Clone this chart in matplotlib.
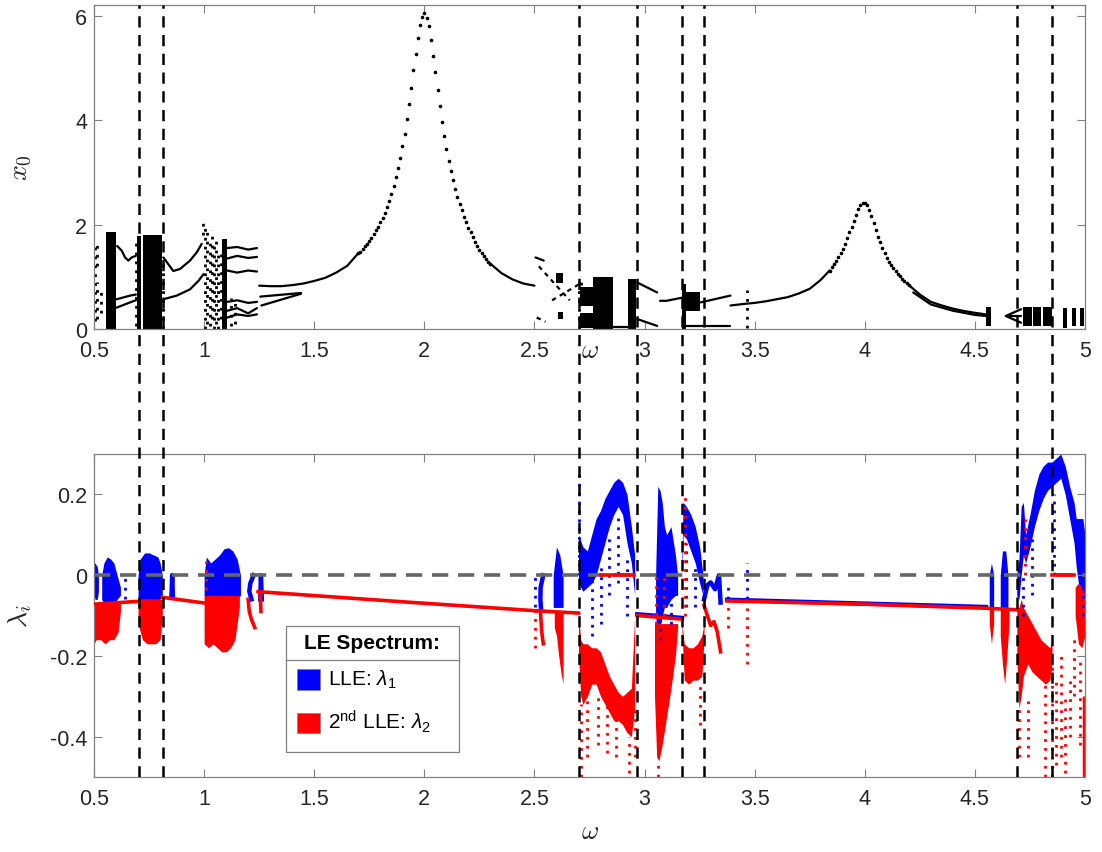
import matplotlib
matplotlib.use("Agg")
import matplotlib.pyplot as plt
from matplotlib.patches import Rectangle

plt.rcParams['font.family'] = ['Liberation Sans', 'DejaVu Sans']
plt.rcParams['mathtext.fontset'] = 'custom'
plt.rcParams['mathtext.rm'] = 'Liberation Sans'
plt.rcParams['mathtext.it'] = 'Liberation Sans:italic'

# ---------------------------------------------------------------- data ----
xticks = [0.5, 1, 1.5, 2, 2.5, 3, 3.5, 4, 4.5, 5]
xtick_labels = ['0.5', '1', '1.5', '2', '2.5', '3', '3.5', '4', '4.5', '5']
top_yticks = [0, 2, 4, 6]
bot_yticks = [-0.4, -0.2, 0, 0.2]
bot_ytick_labels = ['-0.4', '-0.2', '0', '0.2']

# windows marked by the vertical dashed lines
window_w = [0.705, 0.815, 2.70, 2.965, 3.17, 3.272, 4.692, 4.848]

# primary resonance (dots) around w = 2
res1_w = [1.70, 1.71, 1.72, 1.73, 1.74, 1.75, 1.76, 1.77, 1.78, 1.79,
          1.80, 1.81, 1.82, 1.83, 1.84, 1.85, 1.86, 1.87, 1.88, 1.89,
          1.90, 1.91, 1.92, 1.93, 1.94, 1.95, 1.96, 1.97, 1.98, 1.99,
          2.00, 2.01, 2.02, 2.03, 2.04, 2.05, 2.06, 2.07, 2.08, 2.09,
          2.10, 2.11, 2.12, 2.13, 2.14, 2.15, 2.16, 2.17, 2.18, 2.19,
          2.20, 2.21, 2.22, 2.23, 2.24, 2.25, 2.26, 2.27, 2.28, 2.29, 2.30]
res1_x = [1.45, 1.48, 1.53, 1.58, 1.63, 1.69, 1.75, 1.82, 1.89, 1.96,
          2.04, 2.13, 2.23, 2.33, 2.45, 2.59, 2.74, 2.90, 3.08, 3.28,
          3.50, 3.74, 4.02, 4.31, 4.61, 4.95, 5.27, 5.56, 5.81, 5.98,
          6.05, 5.96, 5.80, 5.54, 5.23, 4.91, 4.58, 4.26, 3.96, 3.70,
          3.45, 3.22, 3.03, 2.85, 2.68, 2.52, 2.39, 2.27, 2.15, 2.04,
          1.94, 1.85, 1.76, 1.67, 1.59, 1.52, 1.45, 1.39, 1.34, 1.29, 1.25]

# second resonance (dots) around w = 4
res2_w = [3.84, 3.85, 3.86, 3.87, 3.88, 3.89, 3.90, 3.91, 3.92, 3.93,
          3.94, 3.95, 3.96, 3.97, 3.98, 3.99, 4.00, 4.01, 4.02, 4.03,
          4.04, 4.05, 4.06, 4.07, 4.08, 4.09, 4.10, 4.11, 4.12, 4.13,
          4.14, 4.15, 4.16, 4.17, 4.18, 4.19, 4.20]
res2_x = [1.12, 1.18, 1.24, 1.30, 1.37, 1.45, 1.53, 1.63, 1.74, 1.85,
          1.96, 2.07, 2.19, 2.30, 2.38, 2.42, 2.41, 2.37, 2.28, 2.16,
          2.03, 1.90, 1.77, 1.66, 1.55, 1.45, 1.36, 1.29, 1.22, 1.16,
          1.11, 1.06, 1.01, 0.96, 0.92, 0.88, 0.84]

# periodic branches drawn as continuous curves
branch_w = [[1.25, 1.30, 1.35, 1.40, 1.45, 1.50, 1.55, 1.60, 1.65, 1.70],
            [2.30, 2.35, 2.40, 2.45, 2.50],
            [3.39, 3.45, 3.50, 3.55, 3.60, 3.65, 3.70, 3.75, 3.80, 3.84],
            [4.20, 4.25, 4.30, 4.35, 4.40, 4.45, 4.50, 4.55],
            [4.22, 4.30, 4.40, 4.50, 4.55],
            [0.605, 0.626, 0.641, 0.656, 0.671, 0.69],
            [0.603, 0.664, 0.69],
            [0.603, 0.664, 0.69],
            [0.815, 0.86, 0.891, 0.936, 0.967, 0.989],
            [0.815, 0.876, 0.936, 0.974, 0.997],
            [1.105, 1.15, 1.20, 1.24],
            [1.105, 1.15, 1.20, 1.24],
            [1.105, 1.15, 1.20, 1.24],
            [1.105, 1.15, 1.20, 1.24],
            [1.105, 1.15, 1.20, 1.24],
            [1.105, 1.15, 1.20, 1.24],
            [1.255, 1.44],
            [1.26, 1.44],
            [2.505, 2.542],
            [2.967, 3.057],
            [2.967, 3.057],
            [3.07, 3.10, 3.17],
            [3.255, 3.39],
            [3.19, 3.39],
            [2.855, 2.925],
            [4.71, 4.64, 4.71],
            [4.66, 4.71]]
branch_x = [[0.83, 0.82, 0.82, 0.84, 0.87, 0.92, 0.98, 1.08, 1.21, 1.45],
            [1.25, 1.07, 0.95, 0.87, 0.83],
            [0.45, 0.48, 0.50, 0.53, 0.57, 0.61, 0.68, 0.77, 0.94, 1.12],
            [0.84, 0.66, 0.52, 0.45, 0.39, 0.345, 0.31, 0.28],
            [0.70, 0.47, 0.35, 0.27, 0.25],
            [1.59, 1.50, 1.37, 1.31, 1.37, 1.40],
            [0.57, 0.64, 0.66],
            [0.41, 0.51, 0.55],
            [1.37, 1.11, 1.15, 1.31, 1.47, 1.63],
            [0.57, 0.64, 0.76, 0.92, 1.05],
            [1.55, 1.57, 1.52, 1.55],
            [1.35, 1.40, 1.36, 1.38],
            [1.12, 1.08, 1.12, 1.10],
            [0.52, 0.55, 0.50, 0.52],
            [0.35, 0.40, 0.30, 0.40],
            [0.22, 0.28, 0.25, 0.28],
            [0.62, 0.69],
            [0.45, 0.675],
            [1.37, 1.31],
            [0.89, 0.70],
            [0.19, 0.06],
            [0.54, 0.54, 0.60],
            [0.51, 0.64],
            [0.06, 0.06],
            [0.04, 0.04],
            [0.38, 0.25, 0.12],
            [0.25, 0.25]]

# broken (dashed) branches near w = 2.6
dash_w = [[2.52, 2.66], [2.58, 2.70], [2.51, 2.55]]
dash_x = [[1.20, 0.55], [0.55, 0.85], [0.22, 0.14]]

# chaotic bands: filled blocks (w from, w to, x from, x to)
blk_w0 = [0.555, 0.695, 0.722, 1.082, 2.768, 2.927, 3.172, 3.19, 2.705, 2.705,
          2.605, 2.60, 4.55, 4.72, 4.765, 4.81, 4.90, 4.94, 4.975]
blk_w1 = [0.600, 0.715, 0.810, 1.105, 2.855, 2.960, 3.190, 3.25, 2.765, 2.765,
          2.63, 2.63, 4.575, 4.76, 4.80, 4.85, 4.92, 4.96, 4.995]
blk_lo = [0, 0, 0, 0, 0, 0, 0, 0.35, 0.45, 0.02,
          0.20, 0.88, 0.05, 0.05, 0.05, 0.05, 0.02, 0.05, 0.05]
blk_hi = [1.85, 1.78, 1.80, 1.72, 1.00, 0.96, 0.86, 0.70, 0.80, 0.30,
          0.33, 1.08, 0.42, 0.42, 0.42, 0.42, 0.40, 0.40, 0.40]

# sparse chaotic points, drawn as dotted columns
dot_w = [0.505, 0.515, 0.515, 0.53, 0.69, 0.815, 1.005, 1.015, 1.025, 1.035,
         1.045, 1.055, 1.065, 1.075, 1.12, 1.14, 2.70, 2.71, 3.467, 0.997]
dot_lo = [0.15, 1.2, 0.2, 0.3, 0.05, 0.0, 0.0, 0.1, 0.05, 0.2,
          0.0, 0.1, 0.0, 0.2, 0.05, 0.1, 0.0, 0.85, 0.02, 1.8]
dot_hi = [1.65, 1.6, 0.9, 0.8, 1.7, 1.3, 1.95, 1.85, 1.7, 1.9,
          1.6, 1.75, 1.5, 1.55, 0.6, 0.55, 1.0, 1.02, 0.75, 2.13]

# ---- Lyapunov spectrum ----
red_line_w = [[0.50, 0.70], [0.81, 1.00], [1.245, 1.9, 2.5, 2.70], [2.967, 3.17],
              [3.375, 4.0, 4.55, 4.70], [2.80, 2.95], [4.85, 4.95],
              [1.20, 1.205, 1.215, 1.23], [3.27, 3.285, 3.30, 3.315, 3.33, 3.345],
              [2.527, 2.533, 2.54], [1.255, 1.258]]
red_line_y = [[-0.072, -0.065], [-0.055, -0.069], [-0.041, -0.066, -0.088, -0.094],
              [-0.100, -0.109], [-0.064, -0.072, -0.082, -0.086], [0, 0], [0, 0],
              [-0.06, -0.09, -0.11, -0.13], [-0.075, -0.10, -0.125, -0.115, -0.14, -0.19],
              [-0.09, -0.14, -0.17], [-0.05, -0.09]]
blue_line_w = [[2.967, 3.17], [3.375, 4.55], [1.225, 1.21, 1.205, 1.215],
               [3.27, 3.285, 3.30, 3.32, 3.338, 3.345], [2.54, 2.528, 2.527, 2.53],
               [0.852, 0.855, 0.858], [1.255, 1.258, 1.262]]
blue_line_y = [[-0.097, -0.106], [-0.061, -0.079], [0.0, -0.02, -0.04, -0.06],
               [-0.06, -0.025, -0.018, -0.035, 0.0, -0.068], [0.0, -0.03, -0.06, -0.085],
               [-0.05, 0.0, -0.05], [-0.06, 0.0, -0.06]]

# dense clouds of lambda_1 (blue) and lambda_2 (red): envelopes
blue_cloud_w = [[0.50, 0.505, 0.515, 0.52],
                [0.535, 0.545, 0.56, 0.575, 0.59, 0.605, 0.62],
                [0.70, 0.71, 0.73, 0.75, 0.77, 0.79, 0.80, 0.81],
                [1.00, 1.01, 1.03, 1.05, 1.07, 1.09, 1.11, 1.13, 1.15, 1.165],
                [2.585, 2.60, 2.615, 2.63],
                [2.70, 2.72, 2.74, 2.76, 2.78, 2.80, 2.82, 2.84, 2.86, 2.88, 2.90, 2.92, 2.94, 2.955],
                [3.05, 3.06, 3.07, 3.08, 3.09, 3.10, 3.12, 3.14, 3.15],
                [3.17, 3.175, 3.19, 3.21, 3.23, 3.25, 3.265],
                [4.565, 4.575, 4.585],
                [4.615, 4.625, 4.64, 4.65],
                [4.69, 4.70, 4.71, 4.72, 4.73, 4.75, 4.77, 4.79, 4.81, 4.83, 4.85,
                 4.87, 4.89, 4.91, 4.93, 4.95, 4.96, 4.97, 4.99, 5.0]]
blue_cloud_lo = [[-0.05, -0.06, -0.06, -0.04],
                 [-0.06, -0.07, -0.07, -0.07, -0.07, -0.06, -0.05],
                 [-0.06, -0.06, -0.06, -0.06, -0.06, -0.06, -0.06, -0.05],
                 [-0.05, -0.06, -0.06, -0.06, -0.06, -0.06, -0.06, -0.06, -0.06, -0.05],
                 [-0.08, -0.08, -0.08, -0.08],
                 [-0.02, -0.04, -0.03, -0.02, 0.0, 0.04, 0.08, 0.12, 0.15, 0.17, 0.15, 0.08, 0.03, -0.05],
                 [-0.10, -0.15, -0.13, -0.10, -0.08, -0.08, -0.06, -0.05, -0.05],
                 [0.0, 0.10, 0.09, 0.06, 0.03, -0.02, -0.05],
                 [-0.08, -0.08, -0.08],
                 [-0.08, -0.08, -0.08, -0.08],
                 [-0.05, -0.06, 0.0, 0.05, 0.03, 0.07, 0.12, 0.16, 0.19, 0.21, 0.22,
                  0.23, 0.24, 0.20, 0.14, 0.08, 0.02, -0.02, -0.05, -0.06]]
blue_cloud_hi = [[0.03, 0.03, 0.02, 0.0],
                 [0.0, 0.03, 0.045, 0.04, 0.03, 0.0, -0.03],
                 [0.0, 0.04, 0.055, 0.055, 0.05, 0.045, 0.03, 0.0],
                 [0.0, 0.045, 0.03, 0.04, 0.05, 0.065, 0.068, 0.06, 0.04, 0.0],
                 [0.0, 0.07, 0.05, 0.0],
                 [0.10, 0.07, 0.06, 0.10, 0.14, 0.16, 0.19, 0.21, 0.23, 0.24, 0.23, 0.20, 0.12, 0.05],
                 [0.0, 0.22, 0.21, 0.18, 0.12, 0.10, 0.12, 0.05, 0.0],
                 [0.05, 0.18, 0.17, 0.15, 0.12, 0.07, 0.0],
                 [0.0, 0.03, 0.0],
                 [0.0, 0.06, 0.06, 0.0],
                 [0.0, 0.04, 0.17, 0.18, 0.10, 0.15, 0.21, 0.25, 0.27, 0.28, 0.28,
                  0.29, 0.30, 0.27, 0.22, 0.18, 0.14, 0.14, 0.14, 0.10]]

red_cloud_w = [[0.50, 0.51, 0.53, 0.55, 0.57, 0.59, 0.61, 0.62],
               [0.70, 0.72, 0.74, 0.76, 0.78, 0.80, 0.81],
               [1.00, 1.02, 1.04, 1.06, 1.08, 1.10, 1.12, 1.14, 1.16],
               [2.59, 2.60, 2.61, 2.62, 2.63],
               [2.70, 2.71, 2.72, 2.74, 2.76, 2.78, 2.80, 2.82, 2.84, 2.86, 2.88, 2.90, 2.92, 2.94, 2.955],
               [3.045, 3.055, 3.065, 3.08, 3.10, 3.12, 3.14, 3.15],
               [3.17, 3.18, 3.20, 3.22, 3.24, 3.26, 3.27],
               [4.565, 4.575, 4.585],
               [4.615, 4.625, 4.635, 4.645, 4.655],
               [4.69, 4.70, 4.71, 4.72, 4.74, 4.76, 4.78, 4.80, 4.82, 4.84, 4.85],
               [4.955, 4.97, 4.985, 5.0]]
red_cloud_hi = [[-0.07, -0.07, -0.07, -0.07, -0.07, -0.07, -0.07, -0.07],
                [-0.06, -0.06, -0.06, -0.06, -0.06, -0.06, -0.06],
                [-0.05, -0.05, -0.05, -0.05, -0.05, -0.05, -0.05, -0.05, -0.05],
                [-0.09, -0.09, -0.09, -0.09, -0.09],
                [-0.10, -0.16, -0.17, -0.17, -0.18, -0.18, -0.19, -0.22, -0.25, -0.27, -0.29, -0.30, -0.29, -0.28, -0.10],
                [-0.12, -0.12, -0.12, -0.12, -0.12, -0.12, -0.12, -0.12],
                [-0.12, -0.17, -0.18, -0.18, -0.17, -0.15, -0.12],
                [-0.08, -0.08, -0.08],
                [-0.085, -0.085, -0.085, -0.085, -0.085],
                [-0.08, -0.08, -0.06, -0.08, -0.10, -0.12, -0.14, -0.16, -0.17, -0.18, -0.16],
                [-0.03, -0.02, -0.03, -0.05]]
red_cloud_lo = [[-0.17, -0.16, -0.16, -0.17, -0.16, -0.16, -0.14, -0.09],
                [-0.12, -0.16, -0.17, -0.17, -0.17, -0.16, -0.10],
                [-0.17, -0.18, -0.17, -0.18, -0.19, -0.19, -0.18, -0.16, -0.08],
                [-0.13, -0.15, -0.20, -0.24, -0.27],
                [-0.20, -0.30, -0.32, -0.30, -0.27, -0.27, -0.30, -0.32, -0.34, -0.36, -0.36, -0.37, -0.39, -0.40, -0.33],
                [-0.30, -0.45, -0.46, -0.42, -0.35, -0.28, -0.20, -0.13],
                [-0.14, -0.26, -0.27, -0.26, -0.26, -0.25, -0.16],
                [-0.12, -0.17, -0.12],
                [-0.15, -0.22, -0.27, -0.20, -0.12],
                [-0.20, -0.33, -0.30, -0.25, -0.22, -0.24, -0.25, -0.26, -0.27, -0.26, -0.22],
                [-0.10, -0.17, -0.18, -0.15]]

# sparse LE points, dotted columns (w, from, to)
blue_dot_w = [2.501, 2.703, 2.76, 2.80, 2.84, 2.88, 2.92, 3.07, 3.12, 3.19, 3.23,
              3.38, 3.467, 4.72, 4.76, 4.86, 4.99, 0.64]
blue_dot_lo = [-0.08, 0.0, -0.15, -0.12, -0.05, -0.02, -0.10, -0.16, -0.12, -0.08, -0.08,
               -0.06, -0.06, -0.10, -0.05, 0.0, -0.10, -0.06]
blue_dot_hi = [0.0, 0.25, 0.0, 0.03, 0.10, 0.15, 0.05, -0.05, 0.0, 0.08, 0.03,
               -0.02, 0.03, 0.0, 0.10, 0.20, 0.0, 0.0]
red_dot_w = [2.501, 2.71, 2.74, 2.79, 2.83, 2.87, 2.93, 2.955, 3.05, 3.06, 3.09,
             3.185, 3.25, 3.38, 3.467, 4.70, 4.728, 4.74, 4.82, 4.85, 4.87, 4.89,
             4.91, 4.93, 4.95, 4.975, 1.01]
red_dot_lo = [-0.18, -0.50, -0.45, -0.42, -0.44, -0.45, -0.49, -0.45, -0.12, -0.50, -0.10,
              -0.10, -0.37, -0.13, -0.22, -0.45, 0.0, -0.45, -0.50, -0.50, -0.47, -0.45,
              -0.49, -0.40, -0.30, -0.42, -0.06]
red_dot_hi = [-0.08, -0.32, -0.28, -0.30, -0.32, -0.36, -0.40, -0.33, 0.0, -0.46, 0.0,
              0.20, -0.27, -0.06, -0.06, -0.33, 0.15, -0.30, -0.27, -0.22, -0.25, -0.20,
              -0.30, -0.25, -0.15, -0.20, 0.035]
red_bar_w = [4.995]
red_bar_lo = [-0.50]
red_bar_hi = [-0.30]

# ---------------------------------------------------------------- plot ----
GRAY = '#808080'
TXT = '#262626'
BLUE = '#0000ff'
RED = '#ff0000'
DOTS = (0, (1, 2.2))

fig = plt.figure(figsize=(11.02, 8.53), dpi=100)
ax1 = fig.add_axes([0.0853, 0.6131, 0.8993, 0.3798])
ax2 = fig.add_axes([0.0853, 0.0879, 0.8993, 0.3787])

# --- bifurcation diagram
ax1.bar(blk_w0, [h - l for h, l in zip(blk_hi, blk_lo)],
        width=[b - a for a, b in zip(blk_w0, blk_w1)], bottom=blk_lo,
        align='edge', color='black', linewidth=0)
for ws, xs in zip(branch_w, branch_x):
    ax1.plot(ws, xs, color='black', lw=1.6, solid_capstyle='round')
for ws, xs in zip(dash_w, dash_x):
    ax1.plot(ws, xs, color='black', lw=1.6, linestyle=(0, (2, 2)))
ax1.vlines(dot_w, dot_lo, dot_hi, colors='black', lw=2.0, linestyles=DOTS)
ax1.plot(res1_w, res1_x, 'k.', markersize=3.2)
ax1.plot(res2_w, res2_x, 'k.', markersize=3.2)

ax1.set_xlim(0.5, 5)
ax1.set_ylim(0, 6.2)
ax1.set_yticks(top_yticks)
ax1.set_xlabel(r'$\omega$', fontsize=19, color=TXT, labelpad=-17, math_fontfamily='cm')
ax1.set_ylabel(r'$x_0$', fontsize=20, color=TXT, math_fontfamily='cm')

# --- Lyapunov exponents
for ws, lo, hi in zip(blue_cloud_w, blue_cloud_lo, blue_cloud_hi):
    ax2.fill_between(ws, lo, hi, color=BLUE, lw=0)
ax2.vlines(blue_dot_w, blue_dot_lo, blue_dot_hi, colors=BLUE, lw=2.0, linestyles=DOTS)
for ws, ys in zip(blue_line_w, blue_line_y):
    ax2.plot(ws, ys, color=BLUE, lw=3.2)
for ws, lo, hi in zip(red_cloud_w, red_cloud_lo, red_cloud_hi):
    ax2.fill_between(ws, lo, hi, color=RED, lw=0)
ax2.vlines(red_dot_w, red_dot_lo, red_dot_hi, colors=RED, lw=2.0, linestyles=DOTS)
ax2.vlines(red_bar_w, red_bar_lo, red_bar_hi, colors=RED, lw=2.5)
ax2.axhline(0, color='#666666', lw=2.6, linestyle=(0, (4.5, 2.7)), zorder=3)
for ws, ys in zip(red_line_w, red_line_y):
    ax2.plot(ws, ys, color=RED, lw=2.6, zorder=4)

ax2.set_xlim(0.5, 5)
ax2.set_ylim(-0.5, 0.3)
ax2.set_yticks(bot_yticks)
ax2.set_yticklabels(bot_ytick_labels)
ax2.set_xlabel(r'$\omega$', fontsize=19, color=TXT, labelpad=7, math_fontfamily='cm')
ax2.set_ylabel(r'$\lambda_i$', fontsize=20, color=TXT, math_fontfamily='cm')

for ax in (ax1, ax2):
    ax.set_xticks(xticks)
    ax.set_xticklabels(xtick_labels)
    ax.tick_params(direction='in', length=6, width=0.8, color=GRAY, labelcolor=TXT,
                   labelsize=15.5, top=True, right=True, pad=5)
    ax.tick_params(axis='x', pad=8)
    ax.yaxis.set_label_coords(-0.061, 0.5)
    for s in ax.spines.values():
        s.set_color(GRAY)
        s.set_linewidth(0.9)

# legend box, MATLAB style with a titled header
tr = ax2.transAxes
ax2.add_patch(Rectangle((0.1937, 0.0774), 0.1746, 0.3901, transform=tr,
                        facecolor='white', edgecolor=GRAY, lw=0.9, zorder=10))
ax2.plot([0.1937, 0.3683], [0.362, 0.362], transform=tr, color=GRAY, lw=0.9, zorder=11)
ax2.text(0.281, 0.415, 'LE Spectrum:', transform=tr, ha='center', va='center',
         fontsize=15, fontweight='bold', color='black', zorder=12)
ax2.add_patch(Rectangle((0.2048, 0.2693), 0.0233, 0.0651, transform=tr,
                        facecolor=BLUE, edgecolor=GRAY, lw=0.5, zorder=11))
ax2.add_patch(Rectangle((0.2048, 0.1362), 0.0233, 0.0619, transform=tr,
                        facecolor=RED, edgecolor=GRAY, lw=0.5, zorder=11))
ax2.text(0.2361, 0.303, r'LLE: $\lambda_1$', transform=tr, ha='left', va='center',
         fontsize=15, color='black', zorder=12)
ax2.text(0.2361, 0.175, r'2$^{\mathrm{nd}}$ LLE: $\lambda_2$', transform=tr, ha='left',
         va='center', fontsize=15, color='black', zorder=12)

# vertical dashed window markers spanning both panels
ov = fig.add_axes([0.0853, 0.0879, 0.8993, 0.9930 - 0.0879])
ov.set_xlim(0.5, 5)
ov.set_ylim(0, 1)
ov.axis('off')
ov.patch.set_alpha(0)
for w in window_w:
    ov.axvline(w, color='black', lw=1.8, linestyle=(0, (4.5, 3)))

fig.savefig('out.png', dpi=100)
